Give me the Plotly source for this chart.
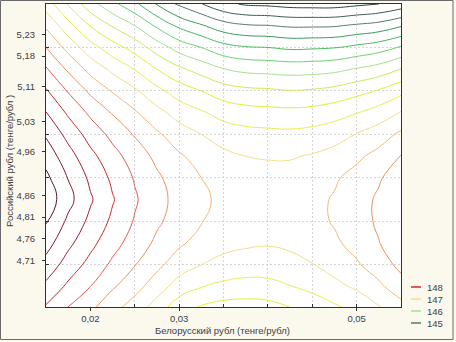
import plotly.graph_objects as go

# ---- data ----
x_nodes = [0.015, 0.0175, 0.02, 0.0225, 0.025, 0.0275, 0.03, 0.0325, 0.035,
           0.0375, 0.04, 0.0425, 0.045, 0.0475, 0.05, 0.0525, 0.055]
y_nodes = [4.60, 4.65, 4.70, 4.75, 4.80, 4.85, 4.90, 4.95, 5.00, 5.05,
           5.10, 5.15, 5.20, 5.25, 5.30]

z_4_60 = [147.96, 147.73, 147.55, 147.32, 147.13, 146.88, 146.59, 146.46, 146.39, 146.38, 146.40, 146.49, 146.59, 146.70, 146.81, 146.97, 147.15]
z_4_65 = [148.19, 147.95, 147.75, 147.53, 147.34, 147.12, 146.89, 146.76, 146.69, 146.66, 146.67, 146.74, 146.82, 146.93, 147.04, 147.20, 147.39]
z_4_70 = [148.41, 148.14, 147.92, 147.70, 147.51, 147.31, 147.12, 147.00, 146.92, 146.88, 146.88, 146.92, 146.99, 147.10, 147.22, 147.37, 147.57]
z_4_75 = [148.60, 148.31, 148.07, 147.84, 147.64, 147.45, 147.29, 147.16, 147.08, 147.04, 147.02, 147.05, 147.11, 147.21, 147.33, 147.49, 147.68]
z_4_80 = [148.77, 148.45, 148.19, 147.95, 147.73, 147.54, 147.39, 147.26, 147.17, 147.13, 147.11, 147.12, 147.18, 147.27, 147.39, 147.54, 147.74]
z_4_85 = [148.91, 148.58, 148.28, 148.02, 147.78, 147.58, 147.42, 147.29, 147.20, 147.15, 147.13, 147.14, 147.19, 147.27, 147.39, 147.54, 147.73]
z_4_90 = [148.81, 148.49, 148.20, 147.95, 147.73, 147.54, 147.38, 147.25, 147.16, 147.11, 147.09, 147.09, 147.13, 147.22, 147.33, 147.47, 147.65]
z_4_95 = [148.65, 148.35, 148.07, 147.84, 147.63, 147.44, 147.28, 147.16, 147.06, 147.00, 146.98, 146.98, 147.02, 147.09, 147.20, 147.33, 147.51]
z_5_00 = [148.47, 148.17, 147.90, 147.68, 147.48, 147.29, 147.12, 147.00, 146.89, 146.84, 146.82, 146.81, 146.84, 146.90, 147.01, 147.13, 147.30]
z_5_05 = [148.26, 147.96, 147.70, 147.48, 147.28, 147.08, 146.90, 146.78, 146.66, 146.60, 146.58, 146.57, 146.59, 146.65, 146.74, 146.86, 147.02]
z_5_10 = [148.03, 147.73, 147.45, 147.23, 147.04, 146.82, 146.63, 146.50, 146.37, 146.31, 146.29, 146.26, 146.28, 146.33, 146.42, 146.52, 146.68]
z_5_15 = [147.78, 147.46, 147.17, 146.94, 146.74, 146.50, 146.30, 146.15, 146.01, 145.94, 145.92, 145.90, 145.91, 145.94, 146.02, 146.11, 146.26]
z_5_20 = [147.50, 147.17, 146.85, 146.61, 146.40, 146.13, 145.90, 145.75, 145.59, 145.52, 145.50, 145.46, 145.47, 145.49, 145.56, 145.64, 145.78]
z_5_25 = [147.21, 146.84, 146.49, 146.23, 146.00, 145.71, 145.45, 145.28, 145.11, 145.03, 145.01, 144.97, 144.97, 144.98, 145.04, 145.10, 145.23]
z_5_30 = [146.89, 146.48, 146.10, 145.82, 145.56, 145.23, 144.95, 144.76, 144.56, 144.47, 144.45, 144.41, 144.40, 144.40, 144.45, 144.50, 144.61]

z_rows = [z_4_60, z_4_65, z_4_70, z_4_75, z_4_80, z_4_85, z_4_90, z_4_95,
          z_5_00, z_5_05, z_5_10, z_5_15, z_5_20, z_5_25, z_5_30]

contour_levels = [144.5, 144.75, 145.0, 145.25, 145.5, 145.75, 146.0, 146.25, 146.5,
                  146.75, 147.0, 147.25, 147.5, 147.75, 148.0, 148.25, 148.5, 148.75]
level_colors = ["#2c4440", "#3e5a52", "#587868", "#3c9a60", "#48b860", "#6cd070",
                "#a4e08c", "#c8ea5a", "#e0f032", "#e8ee52", "#f0e088", "#f2b878",
                "#eb9060", "#e25a50", "#d02828", "#a81c30", "#7d1a2a", "#4a1520"]

x_tick_vals = [0.02, 0.03, 0.05]
x_tick_text = ["0,02", "0,03", "0,05"]
y_tick_vals = [4.71, 4.76, 4.81, 4.86, 4.96, 5.03, 5.11, 5.18, 5.23]
y_tick_text = ["4,71", "4,76", "4,81", "4,86", "4,96", "5,03", "5,11", "5,18", "5,23"]
x_grid = [0.025, 0.03, 0.035, 0.04, 0.045, 0.05]
y_grid = [4.7, 4.8, 4.9, 5.0, 5.1, 5.2]

legend_labels = ["148", "147", "146", "145"]
legend_colors = ["#d02828", "#f0e088", "#a4e08c", "#587868"]

x_title = "Белорусский рубл (тенге/рубл)"
y_title = "Российский рубл (тенге/рубл )"

# ---- figure ----
FONT = "Liberation Sans, Arial, sans-serif"
TXT = "#404040"
W, H = 456, 342
ML, MR, MT, MB = 46, 55, 4, 35
PW, PH = W - ML - MR, H - MT - MB

def px2paper_x(px):
    return (px - ML) / PW

def py2paper_y(py):
    return (H - MB - py) / PH

fig = go.Figure()
for lev, col in zip(contour_levels, level_colors):
    fig.add_trace(go.Contour(
        x=x_nodes, y=y_nodes, z=z_rows,
        autocontour=False,
        contours=dict(start=lev, end=lev + 0.01, size=1, coloring="none"),
        line=dict(color=col, width=1, smoothing=1.3),
        showscale=False, hoverinfo="skip", showlegend=False,
    ))

shapes = []
annotations = []
# outer frame of the picture
shapes.append(dict(type="rect", xref="paper", yref="paper",
                   x0=px2paper_x(0.5), x1=px2paper_x(453), y0=py2paper_y(339.5), y1=py2paper_y(0.5),
                   line=dict(color="#6a6a6a", width=1), layer="above"))
# legend
leg_py = [287, 299, 311, 323]
for lab, col, py in zip(legend_labels, legend_colors, leg_py):
    shapes.append(dict(type="line", xref="paper", yref="paper",
                       x0=px2paper_x(411), x1=px2paper_x(421), y0=py2paper_y(py), y1=py2paper_y(py),
                       line=dict(color=col, width=1.5)))
    annotations.append(dict(xref="paper", yref="paper", x=px2paper_x(425), y=py2paper_y(py),
                            text=lab, showarrow=False, xanchor="left", yanchor="middle",
                            font=dict(family=FONT, size=9.5, color=TXT)))
# axis titles
annotations.append(dict(xref="paper", yref="paper", x=px2paper_x(222), y=py2paper_y(330),
                        text=x_title, showarrow=False, xanchor="center", yanchor="middle",
                        font=dict(family=FONT, size=9.5, color=TXT)))
annotations.append(dict(xref="paper", yref="paper", x=px2paper_x(10), y=py2paper_y(161),
                        text=y_title, showarrow=False, textangle=-90, xanchor="center", yanchor="middle",
                        font=dict(family=FONT, size=9.5, color=TXT)))

axis_common = dict(showline=True, linecolor="#303030", linewidth=1, mirror=True,
                   ticks="outside", ticklen=3, tickcolor="#303030", showgrid=False,
                   zeroline=False, tickfont=dict(family=FONT, size=9.5, color=TXT))

grid_style = dict(showgrid=True, gridcolor="#d4d4d4", griddash="2px,2px",
                  gridwidth=1, ticks="inside", ticklen=3, tickcolor="#303030")

fig.update_layout(
    width=W, height=H,
    margin=dict(l=ML, r=MR, t=MT, b=MB),
    paper_bgcolor="#fbf8ee", plot_bgcolor="#ffffff",
    shapes=shapes, annotations=annotations,
    xaxis=dict(range=[0.015, 0.055], tickvals=x_tick_vals, ticktext=x_tick_text,
               minor=dict(tickvals=x_grid, **grid_style), **axis_common),
    yaxis=dict(range=[4.603, 5.30], tickvals=y_tick_vals, ticktext=y_tick_text,
               ticklabelstandoff=5,
               minor=dict(tickvals=y_grid, **grid_style), **axis_common),
    showlegend=False,
)

fig.write_html("out.html", config={"displayModeBar": False},
               post_script="document.body.style.margin='0';document.body.style.overflow='hidden';")
